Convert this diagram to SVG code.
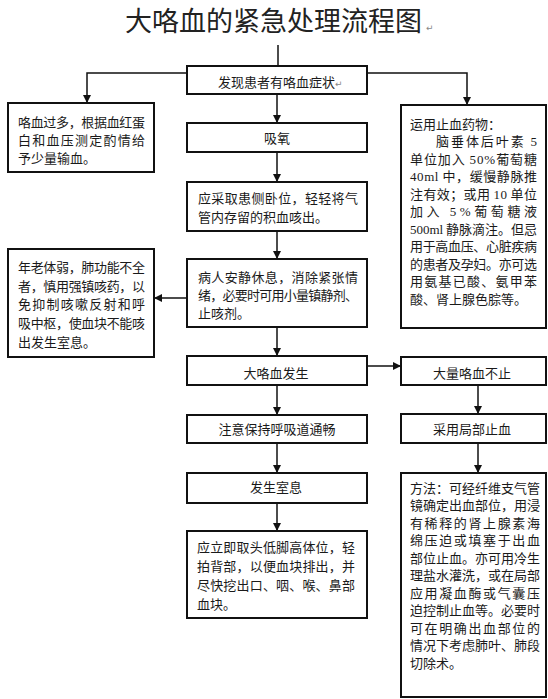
<svg xmlns="http://www.w3.org/2000/svg" width="548" height="699" viewBox="0 0 548 699">
<style>
text { font-family: "Noto Sans CJK SC", "Noto Sans", sans-serif; fill: #1a1a1a; font-size: 13px; }
.c { text-anchor: middle; }
.box { fill: #fff; stroke: #111; stroke-width: 2; }
.conn { fill: none; stroke: #111; stroke-width: 1.5; }
.num { font-family: "Liberation Serif", serif; }
.ret { font-size: 9px; fill: #888; font-family: "DejaVu Sans", sans-serif; }
.title { font-size: 27px; fill: #222; }
</style>
<defs>
<marker id="arr" markerUnits="userSpaceOnUse" markerWidth="8" markerHeight="8" refX="8" refY="4" orient="auto">
<path d="M0,0 L8,4 L0,8 z" fill="#111"/>
</marker>
</defs>
<rect width="548" height="699" fill="#fff"/>
<text class="title" x="125" y="31" textLength="297" lengthAdjust="spacing">大咯血的紧急处理流程图</text>
<text class="ret" x="426" y="31">↵</text>

<g id="connectors">
<path class="conn" d="M278,45 L278,66"/>
<path class="conn" d="M187,73 L87,73 L87,103" marker-end="url(#arr)"/>
<path class="conn" d="M367,73 L467,73 L467,105" marker-end="url(#arr)"/>
<path class="conn" d="M277,94 L277,123" marker-end="url(#arr)"/>
<path class="conn" d="M277,152 L277,182" marker-end="url(#arr)"/>
<path class="conn" d="M277,231 L277,259" marker-end="url(#arr)"/>
<path class="conn" d="M187,298 L154,298" marker-end="url(#arr)"/>
<path class="conn" d="M277,327 L277,356" marker-end="url(#arr)"/>
<path class="conn" d="M367,366 L401,366" marker-end="url(#arr)"/>
<path class="conn" d="M277,385 L277,415" marker-end="url(#arr)"/>
<path class="conn" d="M277,443 L277,473" marker-end="url(#arr)"/>
<path class="conn" d="M277,503 L277,531" marker-end="url(#arr)"/>
<path class="conn" d="M478,385 L478,414" marker-end="url(#arr)"/>
<path class="conn" d="M478,443 L478,473" marker-end="url(#arr)"/>
</g>

<g id="n_discover">
<rect class="box" x="187" y="66" width="180" height="28"/>
<text x="218" y="87">发现患者有咯血症状<tspan class="ret">↵</tspan></text>
</g>
<g id="n_oxygen">
<rect class="box" x="187" y="123" width="180" height="29"/>
<text class="c" x="277" y="142.5">吸氧</text>
</g>
<g id="n_position">
<rect class="box" x="187" y="182" width="180" height="49"/>
<text x="198" y="202.5" textLength="160" lengthAdjust="spacing">应采取患侧卧位，轻轻将气</text>
<text x="198" y="221.5">管内存留的积血咳出。</text>
</g>
<g id="n_rest">
<rect class="box" x="187" y="259" width="180" height="68"/>
<text x="198" y="281.5" textLength="160" lengthAdjust="spacing">病人安静休息，消除紧张情</text>
<text x="198" y="299.5" textLength="160" lengthAdjust="spacing">绪，必要时可用小量镇静剂、</text>
<text x="198" y="317.5">止咳剂。</text>
</g>
<g id="n_massive">
<rect class="box" x="187" y="356" width="180" height="29"/>
<text class="c" x="276" y="377.5">大咯血发生</text>
</g>
<g id="n_airway">
<rect class="box" x="187" y="415" width="180" height="28"/>
<text class="c" x="277" y="434">注意保持呼吸道通畅</text>
</g>
<g id="n_asphyxia">
<rect class="box" x="187" y="473" width="180" height="30"/>
<text class="c" x="276" y="491.5">发生室息</text>
</g>
<g id="n_headdown">
<rect class="box" x="187" y="531" width="180" height="87"/>
<text x="197" y="551.5" textLength="158" lengthAdjust="spacing">应立即取头低脚高体位，轻</text>
<text x="197" y="570.5" textLength="158" lengthAdjust="spacing">拍背部，以便血块排出，并</text>
<text x="197" y="589.5" textLength="158" lengthAdjust="spacing">尽快挖出口、咽、喉、鼻部</text>
<text x="197" y="609">血块。</text>
</g>

<g id="n_transfusion">
<rect class="box" x="8" y="103" width="146" height="69"/>
<text x="18" y="126.5" textLength="127" lengthAdjust="spacing">咯血过多，根据血红蛋</text>
<text x="18" y="144.5" textLength="127" lengthAdjust="spacing">白和血压测定酌情给</text>
<text x="18" y="162.5">予少量输血。</text>
</g>
<g id="n_elderly">
<rect class="box" x="8" y="249" width="146" height="108"/>
<text x="18" y="271.5" textLength="127" lengthAdjust="spacing">年老体弱，肺功能不全</text>
<text x="18" y="290.5" textLength="127" lengthAdjust="spacing">者，慎用强镇咳药，以</text>
<text x="18" y="309" textLength="127" lengthAdjust="spacing">免抑制咳嗽反射和呼</text>
<text x="18" y="328" textLength="127" lengthAdjust="spacing">吸中枢，使血块不能咳</text>
<text x="18" y="347">出发生室息。</text>
</g>

<g id="n_drugs">
<rect class="box" x="401" y="105" width="145" height="223"/>
<text x="410" y="128.5">运用止血药物：</text>
<text x="436" y="146" textLength="101" lengthAdjust="spacing">脑垂体后叶素 <tspan class="num">5</tspan></text>
<text x="410" y="163.5" textLength="127" lengthAdjust="spacing">单位加入 <tspan class="num">50%</tspan>葡萄糖</text>
<text x="410" y="181" textLength="127" lengthAdjust="spacing"><tspan class="num">40ml</tspan> 中，缓慢静脉推</text>
<text x="410" y="198.5" textLength="127" lengthAdjust="spacing">注有效；或用 <tspan class="num">10</tspan> 单位</text>
<text x="410" y="216" textLength="127" lengthAdjust="spacing">加入 <tspan class="num">5%</tspan>葡萄糖液</text>
<text x="410" y="233.5" textLength="127" lengthAdjust="spacing"><tspan class="num">500ml</tspan> 静脉滴注。但忌</text>
<text x="410" y="251" textLength="127" lengthAdjust="spacing">用于高血压、心脏疾病</text>
<text x="410" y="268.5" textLength="127" lengthAdjust="spacing">的患者及孕妇。亦可选</text>
<text x="410" y="286" textLength="127" lengthAdjust="spacing">用氨基已酸、氨甲苯</text>
<text x="410" y="303.5">酸、肾上腺色腙等。</text>
</g>
<g id="n_persist">
<rect class="box" x="401" y="357" width="145" height="28"/>
<text class="c" x="472" y="377.5">大量咯血不止</text>
</g>
<g id="n_local">
<rect class="box" x="401" y="414" width="145" height="29"/>
<text class="c" x="472" y="434">采用局部止血</text>
</g>
<g id="n_method">
<rect class="box" x="401" y="473" width="145" height="224"/>
<text x="410" y="492.5" textLength="130" lengthAdjust="spacing">方法：可经纤维支气管</text>
<text x="410" y="510" textLength="130" lengthAdjust="spacing">镜确定出血部位，用浸</text>
<text x="410" y="527.5" textLength="130" lengthAdjust="spacing">有稀释的肾上腺素海</text>
<text x="410" y="545" textLength="130" lengthAdjust="spacing">绵压迫或填塞于出血</text>
<text x="410" y="562.5" textLength="130" lengthAdjust="spacing">部位止血。亦可用冷生</text>
<text x="410" y="580" textLength="130" lengthAdjust="spacing">理盐水灌洗，或在局部</text>
<text x="410" y="597.5" textLength="130" lengthAdjust="spacing">应用凝血酶或气囊压</text>
<text x="410" y="615" textLength="130" lengthAdjust="spacing">迫控制止血等。必要时</text>
<text x="410" y="632.5" textLength="130" lengthAdjust="spacing">可在明确出血部位的</text>
<text x="410" y="650" textLength="130" lengthAdjust="spacing">情况下考虑肺叶、肺段</text>
<text x="410" y="667.5">切除术。</text>
</g>
</svg>
